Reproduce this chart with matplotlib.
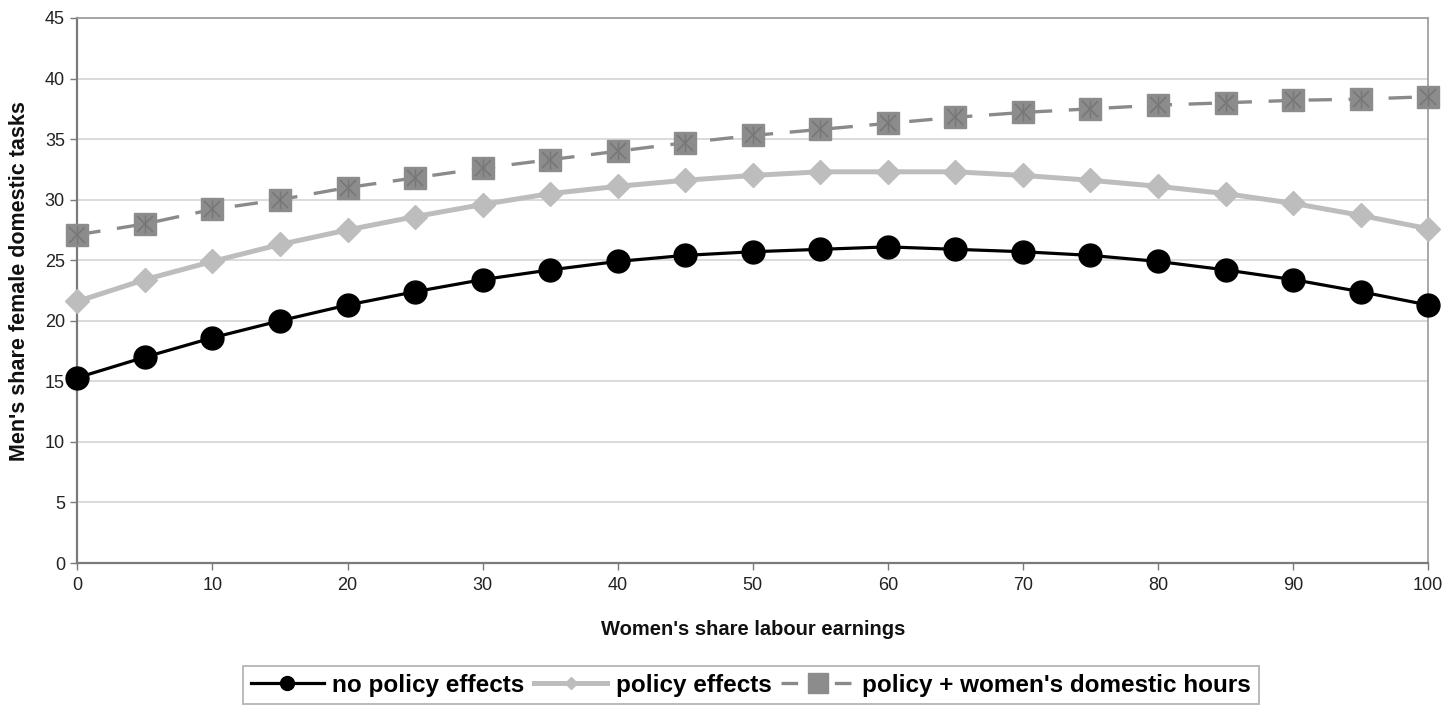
import matplotlib
matplotlib.use("Agg")
import matplotlib.pyplot as plt
from matplotlib.lines import Line2D

plt.rcParams['font.family'] = ['Liberation Sans', 'DejaVu Sans']

x_vals = [0, 5, 10, 15, 20, 25, 30, 35, 40, 45, 50, 55, 60, 65, 70, 75, 80, 85, 90, 95, 100]
no_policy = [15.3, 17.0, 18.6, 20.0, 21.3, 22.4, 23.4, 24.2, 24.9, 25.4, 25.7, 25.9, 26.1,
             25.9, 25.7, 25.4, 24.9, 24.2, 23.4, 22.4, 21.3]
policy = [21.6, 23.4, 24.9, 26.3, 27.5, 28.6, 29.6, 30.5, 31.1, 31.6, 32.0, 32.3, 32.3,
          32.3, 32.0, 31.6, 31.1, 30.5, 29.7, 28.7, 27.6]
policy_hours = [27.1, 28.0, 29.2, 30.0, 31.0, 31.8, 32.6, 33.3, 34.0, 34.7, 35.3, 35.8, 36.3,
                36.8, 37.2, 37.5, 37.8, 38.0, 38.2, 38.3, 38.5]
labels = ["no policy effects", "policy effects", "policy + women's domestic hours"]
x_ticks = [0, 10, 20, 30, 40, 50, 60, 70, 80, 90, 100]
y_ticks = [0, 5, 10, 15, 20, 25, 30, 35, 40, 45]

fig = plt.figure(figsize=(14.47, 7.05), dpi=100)
ax = fig.add_axes([0.0535, 0.2014, 0.9335, 0.7731])

ax.set_xlim(0, 100)
ax.set_ylim(0, 45)
ax.set_xticks(x_ticks)
ax.set_yticks(y_ticks)
ax.grid(axis='y', color='#d4d4d4', linewidth=1.2, zorder=0)
ax.set_axisbelow(True)

for s in ['left', 'bottom']:
    ax.spines[s].set_color('#7a7a7a')
    ax.spines[s].set_linewidth(1.6)
for s in ['top', 'right']:
    ax.spines[s].set_color('#9a9a9a')
    ax.spines[s].set_linewidth(1.2)

ax.tick_params(axis='both', direction='out', length=5, width=1, color='#7a7a7a',
               labelsize=13, labelcolor='#222222')
ax.tick_params(axis='x', pad=5)
ax.tick_params(axis='y', pad=4)

ax.plot(x_vals, policy_hours, color='#8a8a8a', linewidth=2.4, dashes=(7, 5),
        marker='s', markersize=15.5, markerfacecolor='#8c8c8c',
        markeredgecolor='#8c8c8c', label=labels[2], clip_on=False, zorder=3)
ax.plot(x_vals, policy_hours, linestyle='none', marker='x', markersize=11,
        markeredgecolor='#777777', markeredgewidth=1.2, clip_on=False, zorder=4)
ax.plot(x_vals, policy_hours, linestyle='none', marker='|', markersize=13,
        markeredgecolor='#777777', markeredgewidth=1.0, clip_on=False, zorder=4)

ax.plot(x_vals, policy, color='#bdbdbd', linewidth=3.6,
        marker='D', markersize=12.5, markerfacecolor='#bdbdbd',
        markeredgecolor='#bdbdbd', label=labels[1], clip_on=False, zorder=5)

ax.plot(x_vals, no_policy, color='black', linewidth=2.3,
        marker='o', markersize=16.5, markerfacecolor='black',
        markeredgecolor='black', label=labels[0], clip_on=False, zorder=6)

ax.set_xlabel("Women's share labour earnings", fontsize=14.5, fontweight='bold',
              labelpad=19, color='#111111')
ax.set_ylabel("Men's share female domestic tasks", fontsize=15.5, fontweight='bold',
              color='#111111')
ax.yaxis.set_label_coords(-0.035, 0.517)

h1 = Line2D([], [], color='black', linewidth=2.3, marker='o', markersize=10,
            markerfacecolor='black', markeredgecolor='black')
h2 = Line2D([], [], color='#bdbdbd', linewidth=3.6, marker='D', markersize=6,
            markerfacecolor='#bdbdbd', markeredgecolor='#bdbdbd')
h3 = Line2D([], [], color='#8a8a8a', linewidth=2.4, dashes=(5, 3), marker='s', markersize=15,
            markerfacecolor='#8c8c8c', markeredgecolor='#8c8c8c')
leg = fig.legend([h1, h2, h3], labels, loc='center', bbox_to_anchor=(0.519, 0.028),
                 ncol=3, frameon=True, fancybox=False, edgecolor='#a8a8a8',
                 prop={'weight': 'bold', 'size': 17.5}, handlelength=3.0,
                 handletextpad=0.35, columnspacing=0.4, borderpad=0.3)
leg.get_frame().set_linewidth(1.4)

fig.savefig('out.png', dpi=100)
